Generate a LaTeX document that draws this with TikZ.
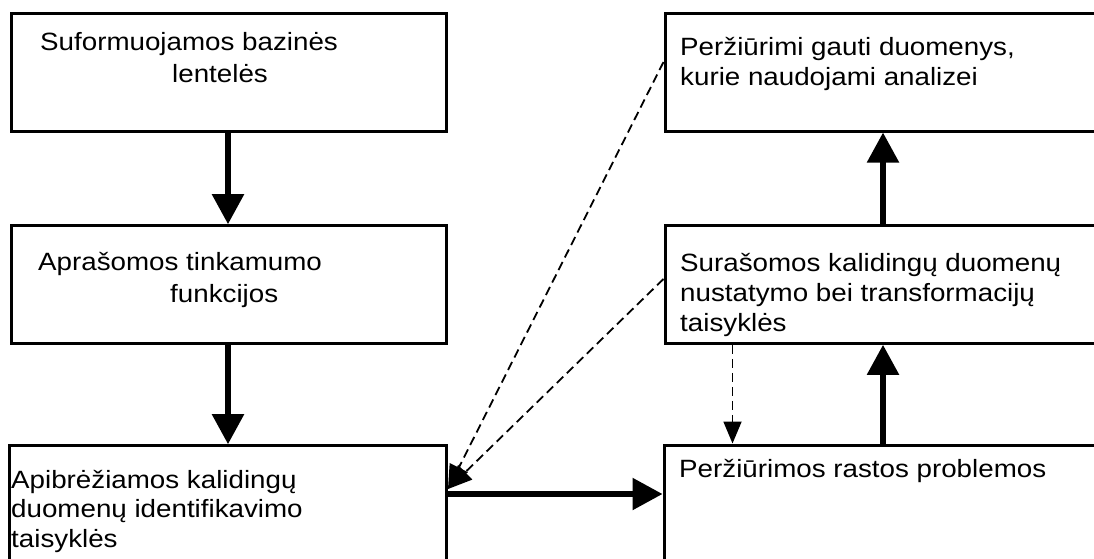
\documentclass[tikz,border=0pt]{standalone}
\usepackage{fontspec}
\setmainfont[FakeStretch=1.11]{Liberation Sans}
\usetikzlibrary{arrows.meta}
\newcommand\firstline{\rule{0pt}{22pt}}
\begin{document}
\begin{tikzpicture}[x=1pt,y=-1pt,
  box/.style={draw=black, line width=3pt, rectangle, inner sep=0pt, fill=white},
  txt/.style={anchor=north west, inner sep=0pt, align=left},
  flow/.style={line width=5.5pt, -{Triangle[length=30pt,width=31pt]}},
  hint/.style={line width=1.8pt, dash pattern=on 9pt off 5pt,
               -{Triangle[length=22pt,width=18pt]}},
  hintbig/.style={hint, -{Triangle[length=24pt,width=20pt]}}]
\path[use as bounding box] (0,0) rectangle (1094,558);
\clip (0,0) rectangle (1094,558);

% left column
\node[box, minimum width=435.4pt, minimum height=118pt] (l1) at (229,72.3) {};
\node[box, minimum width=435.4pt, minimum height=117.6pt] (l2) at (229,284.5) {};
\node[box, minimum width=437.7pt, minimum height=174.3pt] (l3) at (227.85,532.85) {};

% right column
\node[box, minimum width=455pt, minimum height=117.5pt] (r1) at (892.5,72.3) {};
\node[box, minimum width=455pt, minimum height=117.6pt] (r2) at (892.5,284.5) {};
\node[box, minimum width=456pt, minimum height=175pt] (r3) at (892,532.5) {};

% texts
\node[txt, font=\fontsize{25}{32}\selectfont] (t1) at (40,28)
  {\firstline Suformuojamos bazinės\\\hspace*{132pt}lentelės};
\node[txt, font=\fontsize{25}{32}\selectfont] (t2) at (38,248)
  {\firstline Aprašomos tinkamumo\\\hspace*{132pt}funkcijos};
\node[txt, font=\fontsize{25}{29.5}\selectfont] (t3) at (11,466)
  {\firstline Apibrėžiamos kalidingų\\duomenų identifikavimo\\taisyklės};
\node[txt, font=\fontsize{25}{30}\selectfont] (t4) at (680,33)
  {\firstline Peržiūrimi gauti duomenys,\\kurie naudojami analizei};
\node[txt, font=\fontsize{25}{30}\selectfont] (t5) at (680,249.7)
  {\firstline Surašomos kalidingų duomenų\\nustatymo bei transformacijų\\taisyklės};
\node[txt, font=\fontsize{25}{30}\selectfont] (t6) at (679,455)
  {\firstline Peržiūrimos rastos problemos};

% connector positions
\coordinate (lx) at (228,0);
\coordinate (rx) at (883,0);
\coordinate (dx) at (732.5,0);
\coordinate (hit) at (448,489);

% main flow
\draw[flow] (l1.south -| lx) -- (l2.north -| lx);
\draw[flow] (l2.south -| lx) -- (l3.north -| lx);
\draw[flow] (l3.east |- 0,494) -- (r3.west |- 0,494);
\draw[flow] (r3.north -| rx) -- (r2.south -| rx);
\draw[flow] (r2.north -| rx) -- (r1.south -| rx);

% dashed feedback links
\draw[hint] (r2.south -| dx) -- (r3.north -| dx);
\draw[hintbig] (r1.west |- 0,62) -- (hit);
\draw[hintbig] (r2.west |- 0,279) -- (hit);
\end{tikzpicture}
\end{document}
